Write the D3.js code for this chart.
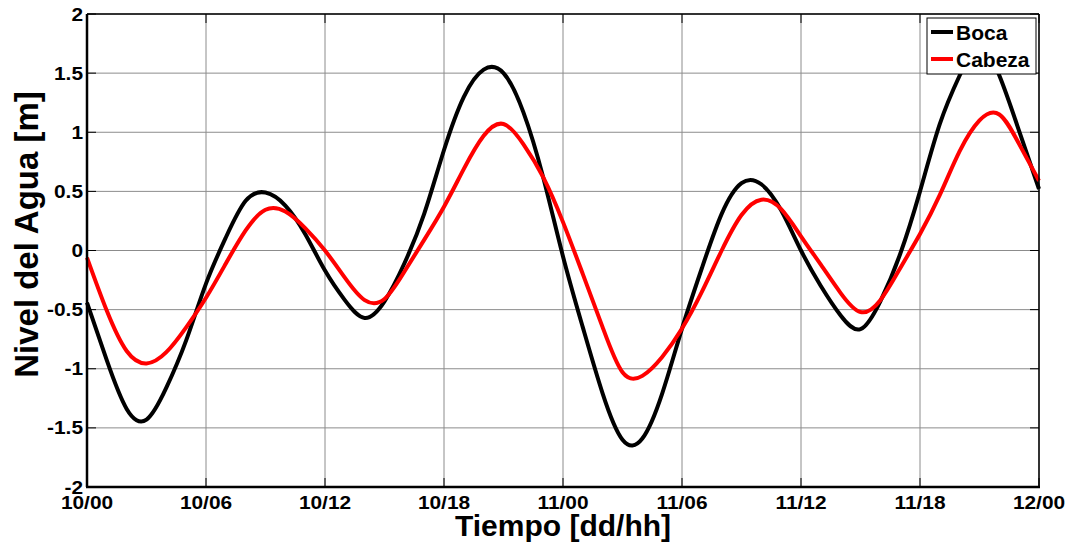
<!DOCTYPE html>
<html>
<head>
<meta charset="utf-8">
<script src="https://cdn.jsdelivr.net/npm/d3@7"></script>
<style>
  html, body { margin: 0; padding: 0; background: #fff; }
  svg { display: block; font-family: 'Liberation Sans', Arial, sans-serif; font-weight: bold; }
</style>
</head>
<body>
<svg id="chart"></svg>
<script>
// time in hours from 10/00
const hours = d3.range(0, 49);
const boca = [
  -0.44, -0.93, -1.34, -1.43, -1.16, -0.76, -0.28, 0.11, 0.42, 0.49,
  0.38, 0.14, -0.17, -0.42, -0.57, -0.43, -0.11, 0.31, 0.85, 1.30,
  1.53, 1.50, 1.17, 0.62, -0.05, -0.65, -1.21, -1.60, -1.59, -1.21,
  -0.66, -0.15, 0.31, 0.57, 0.56, 0.34, 0.00, -0.30, -0.55, -0.665,
  -0.43, -0.03, 0.50, 1.07, 1.48, 1.72, 1.48, 1.01, 0.52
];
const cabeza = [
  -0.06, -0.51, -0.85, -0.955, -0.86, -0.65, -0.40, -0.11, 0.17, 0.345,
  0.33, 0.19, 0.00, -0.23, -0.42, -0.41, -0.18, 0.09, 0.37, 0.69,
  0.97, 1.07, 0.90, 0.62, 0.24, -0.20, -0.65, -1.03, -1.06, -0.90,
  -0.66, -0.35, 0.00, 0.30, 0.43, 0.35, 0.12, -0.12, -0.36, -0.52,
  -0.42, -0.15, 0.14, 0.47, 0.84, 1.10, 1.15, 0.90, 0.59
];
const xTickHours = [0, 6, 12, 18, 24, 30, 36, 42, 48];
const xTickLabels = ['10/00', '10/06', '10/12', '10/18', '11/00', '11/06', '11/12', '11/18', '12/00'];
const yTicks = [-2, -1.5, -1, -0.5, 0, 0.5, 1, 1.5, 2];
const yTickLabels = ['-2', '-1.5', '-1', '-0.5', '0', '0.5', '1', '1.5', '2'];
const seriesNames = ['Boca', 'Cabeza'];
const seriesColors = ['#000000', '#ff0000'];

const width = 1073, height = 544;
const margin = {top: 14, right: 34, bottom: 57, left: 87};
const svg = d3.select('#chart').attr('width', width).attr('height', height);

const x = d3.scaleLinear().domain([0, 48]).range([margin.left, width - margin.right]);
const y = d3.scaleLinear().domain([-2, 2]).range([height - margin.bottom, margin.top]);

// grid
svg.append('g')
  .selectAll('line')
  .data(xTickHours)
  .join('line')
  .attr('x1', d => x(d)).attr('x2', d => x(d))
  .attr('y1', y(-2)).attr('y2', y(2))
  .attr('stroke', '#8c8c8c').attr('stroke-width', 1);
svg.append('g')
  .selectAll('line')
  .data(yTicks)
  .join('line')
  .attr('x1', x(0)).attr('x2', x(48))
  .attr('y1', d => y(d)).attr('y2', d => y(d))
  .attr('stroke', '#8c8c8c').attr('stroke-width', 1);

// inward tick marks
const tickLen = 9;
const tk = svg.append('g').attr('stroke', '#000').attr('stroke-width', 1);
xTickHours.forEach(h => {
  tk.append('line').attr('x1', x(h)).attr('x2', x(h)).attr('y1', y(-2)).attr('y2', y(-2) - tickLen);
  tk.append('line').attr('x1', x(h)).attr('x2', x(h)).attr('y1', y(2)).attr('y2', y(2) + tickLen);
});
yTicks.forEach(v => {
  tk.append('line').attr('x1', x(0)).attr('x2', x(0) + tickLen).attr('y1', y(v)).attr('y2', y(v));
  tk.append('line').attr('x1', x(48)).attr('x2', x(48) - tickLen).attr('y1', y(v)).attr('y2', y(v));
});

// series
const line = d3.line()
  .x((d, i) => x(hours[i]))
  .y(d => y(d))
  .curve(d3.curveNatural);

[boca, cabeza].forEach((s, i) => {
  svg.append('path')
    .datum(s)
    .attr('fill', 'none')
    .attr('stroke', seriesColors[i])
    .attr('stroke-width', 4)
    .attr('stroke-linejoin', 'round')
    .attr('d', line);
});

// axes box
svg.append('line').attr('x1', x(0)).attr('x2', x(48)).attr('y1', y(2)).attr('y2', y(2))
  .attr('stroke', '#000').attr('stroke-width', 1.5);
svg.append('line').attr('x1', x(48)).attr('x2', x(48)).attr('y1', y(2)).attr('y2', y(-2))
  .attr('stroke', '#000').attr('stroke-width', 1.5);
svg.append('line').attr('x1', x(0) - 1).attr('x2', x(48) + 1).attr('y1', y(-2)).attr('y2', y(-2))
  .attr('stroke', '#000').attr('stroke-width', 2.5);
svg.append('line').attr('x1', x(0)).attr('x2', x(0)).attr('y1', y(2)).attr('y2', y(-2))
  .attr('stroke', '#000').attr('stroke-width', 2.5);

// tick labels
svg.append('g')
  .selectAll('text')
  .data(xTickHours)
  .join('text')
  .attr('transform', d => `translate(${x(d)},${y(-2) + 22}) scale(1.16,1)`)
  .attr('text-anchor', 'middle')
  .attr('font-size', 18)
  .text((d, i) => xTickLabels[i]);

svg.append('g')
  .selectAll('text')
  .data(yTicks)
  .join('text')
  .attr('transform', d => `translate(${x(0) - 4},${y(d) + 6.5}) scale(1.16,1)`)
  .attr('text-anchor', 'end')
  .attr('font-size', 18)
  .text((d, i) => yTickLabels[i]);

// axis titles
svg.append('text')
  .attr('x', (x(0) + x(48)) / 2)
  .attr('y', 536)
  .attr('text-anchor', 'middle')
  .attr('font-size', 30)
  .text('Tiempo [dd/hh]');

svg.append('text')
  .attr('transform', `translate(38,${(y(-2) + y(2)) / 2 - 16}) rotate(-90)`)
  .attr('text-anchor', 'middle')
  .attr('font-size', 33)
  .text('Nivel del Agua [m]');

// legend
const lg = svg.append('g').attr('transform', 'translate(927,18)');
lg.append('rect')
  .attr('width', 109).attr('height', 56)
  .attr('fill', '#fff').attr('stroke', '#000').attr('stroke-width', 1);
seriesNames.forEach((name, i) => {
  const cy = 14 + i * 27;
  lg.append('line')
    .attr('x1', 4).attr('x2', 26).attr('y1', cy).attr('y2', cy)
    .attr('stroke', seriesColors[i]).attr('stroke-width', 4);
  lg.append('text')
    .attr('x', 29).attr('y', cy + 8)
    .attr('font-size', 21)
    .text(name);
});
</script>
</body>
</html>
